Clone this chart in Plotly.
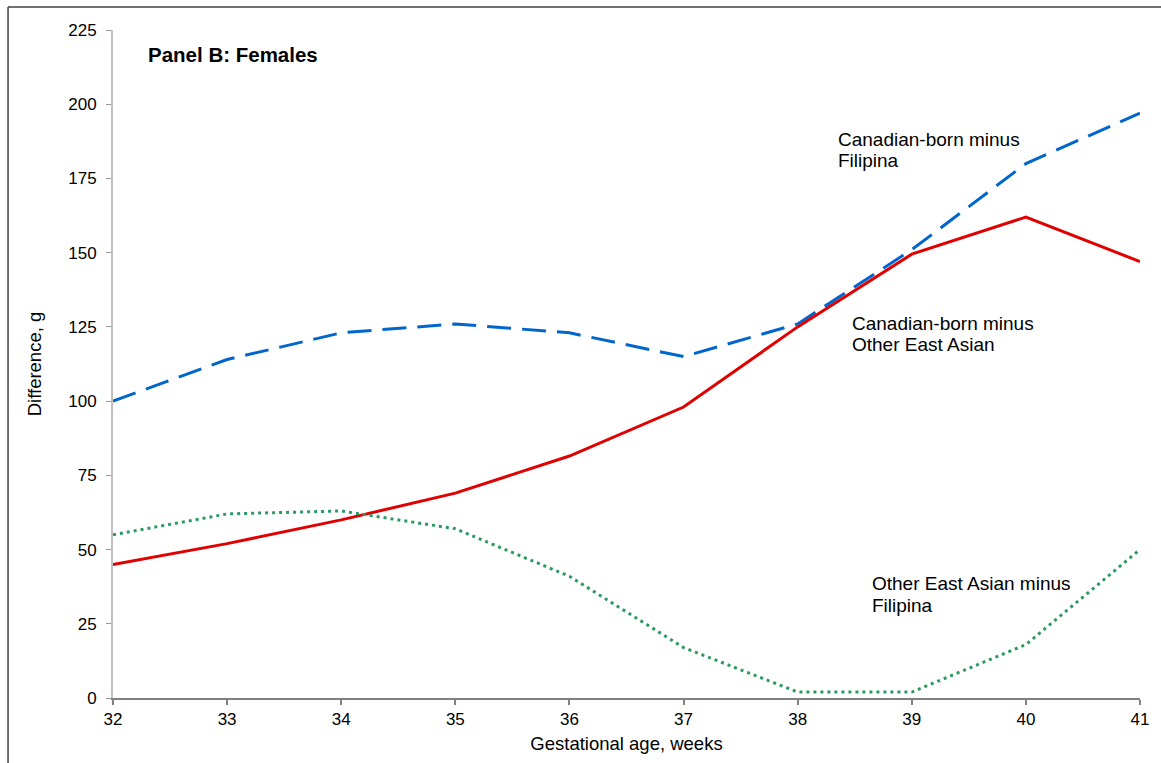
import plotly.graph_objects as go

# Gestational age (weeks) and birth-weight differences (g), females
weeks = [32, 33, 34, 35, 36, 37, 38, 39, 40, 41]
cdn_minus_filipina = [100, 114, 123, 126, 123, 115, 126, 151, 180, 197]
cdn_minus_other_east_asian = [45, 52, 60, 69, 81.5, 98, 125, 149.5, 162, 147]
other_east_asian_minus_filipina = [55, 62, 63, 57, 41, 17, 2, 2, 18, 50]

y_ticks = [0, 25, 50, 75, 100, 125, 150, 175, 200, 225]

FONT = "Liberation Sans, Arial, sans-serif"

fig = go.Figure()
fig.add_trace(go.Scatter(
    x=weeks, y=cdn_minus_filipina, mode="lines",
    line=dict(color="#0066CC", width=3, dash="24px,11px"),
    name="Canadian-born minus Filipina"))
fig.add_trace(go.Scatter(
    x=weeks, y=cdn_minus_other_east_asian, mode="lines",
    line=dict(color="#E00000", width=3),
    name="Canadian-born minus Other East Asian"))
fig.add_trace(go.Scatter(
    x=weeks, y=other_east_asian_minus_filipina, mode="lines",
    line=dict(color="#2A9A60", width=3, dash="3px,4px"),
    name="Other East Asian minus Filipina"))

annot_font = dict(family=FONT, size=19, color="#000000")
fig.add_annotation(x=0.032, y=0.9626, xref="paper", yref="paper",
                   xanchor="left", yanchor="middle", showarrow=False,
                   text="<b>Panel B: Females</b>",
                   font=dict(family=FONT, size=20.5, color="#000000"))

# Series labels, one annotation per text line (tight line spacing)
series_labels = [
    (38.336, 188.1, "Canadian-born minus"),
    (38.336, 181.0, "Filipina"),
    (38.459, 126.1, "Canadian-born minus"),
    (38.459, 119.0, "Other East Asian"),
    (38.633, 38.7, "Other East Asian minus"),
    (38.633, 31.3, "Filipina"),
]
for lx, ly, txt in series_labels:
    fig.add_annotation(x=lx, y=ly, xanchor="left", yanchor="middle",
                       showarrow=False, align="left", text=txt, font=annot_font)

# Outer frame: left edge and top edge of the chart area
frame = dict(color="#404040", width=1.5)
fig.add_shape(type="line", xref="paper", yref="paper",
              x0=-0.1022, x1=-0.1022, y0=-0.2, y1=1.0344, line=frame)
fig.add_shape(type="line", xref="paper", yref="paper",
              x0=-0.1022, x1=1.03, y0=1.0344, y1=1.0344, line=frame)

fig.update_layout(
    width=1161, height=763,
    margin=dict(l=113, r=21, t=30, b=65),
    paper_bgcolor="white", plot_bgcolor="white",
    showlegend=False,
    font=dict(family=FONT, size=17, color="#000000"),
    xaxis=dict(
        range=[32, 41], tickmode="array", tickvals=weeks,
        showgrid=False, zeroline=False,
        showline=True, linecolor="#808080", linewidth=1.5,
        ticks="outside", ticklen=5, tickcolor="#808080", tickwidth=1.5,
        tickfont=dict(family=FONT, size=17),
        title=dict(text="Gestational age, weeks",
                   font=dict(family=FONT, size=18.5), standoff=9),
    ),
    # inward half of the crossing x ticks
    xaxis2=dict(
        overlaying="x", anchor="y", side="bottom",
        range=[32, 41], tickmode="array", tickvals=weeks,
        showgrid=False, zeroline=False, showline=False,
        showticklabels=False,
        ticks="inside", ticklen=5, tickcolor="#808080", tickwidth=1.5,
    ),
    yaxis=dict(
        range=[0, 225], tickmode="array", tickvals=y_ticks,
        showgrid=False, zeroline=False,
        showline=True, linecolor="#BFBFBF", linewidth=2,
        ticks="outside", ticklen=5, tickcolor="#999999", tickwidth=1,
        ticklabelstandoff=6,
        tickfont=dict(family=FONT, size=17),
        title=dict(text="Difference, g",
                   font=dict(family=FONT, size=18.5), standoff=22),
    ),
)

fig.write_html("out.html")
